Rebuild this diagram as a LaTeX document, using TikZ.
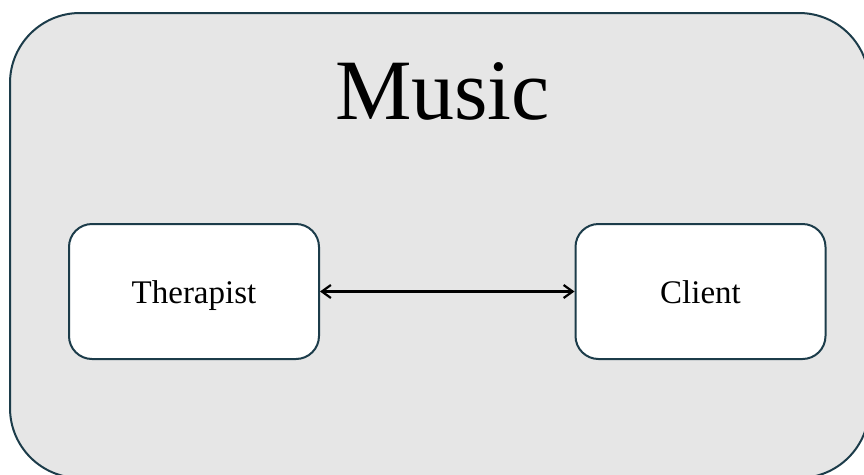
\documentclass[tikz,border=0pt]{standalone}
\usepackage{fontspec}
\setmainfont{Liberation Serif}
\usetikzlibrary{arrows.meta}

\definecolor{edgeteal}{RGB}{28,60,74}
\definecolor{panelgray}{RGB}{230,230,230}

\tikzset{
  panel/.style={draw=edgeteal, line width=2pt, fill=panelgray, rounded corners=70pt,
    minimum width=859pt, minimum height=465pt, inner sep=0pt},
  rolebox/.style={draw=edgeteal, line width=2pt, fill=white, rounded corners=23pt,
    minimum width=250pt, minimum height=135pt, inner sep=0pt,
    text height=23pt, text depth=0pt,
    font=\fontsize{33}{38}\selectfont},
  barb/.style={line width=2.2pt, {Straight Barb[length=9pt,width=13pt]}-{Straight Barb[length=9pt,width=13pt]}},
}

\begin{document}
\begin{tikzpicture}[x=1pt,y=-1pt]

% Page frame (outer panel runs past the right and bottom edges)
\clip (0,0) rectangle (864,474);

% Grey panel
\node[panel] (frame) at (439.5,245.5) {};

% Title
\node[anchor=base, inner sep=0pt, font=\fontsize{86}{96}\selectfont] (title) at (442.5,119) {Music};

% Two roles
\node[rolebox] (therapist) at (194,291.5) {Therapist};
\node[rolebox] (client) at (700.5,291.5) {Client};

% Two-way link
\draw[barb] (therapist) -- (client);

\end{tikzpicture}
\end{document}
